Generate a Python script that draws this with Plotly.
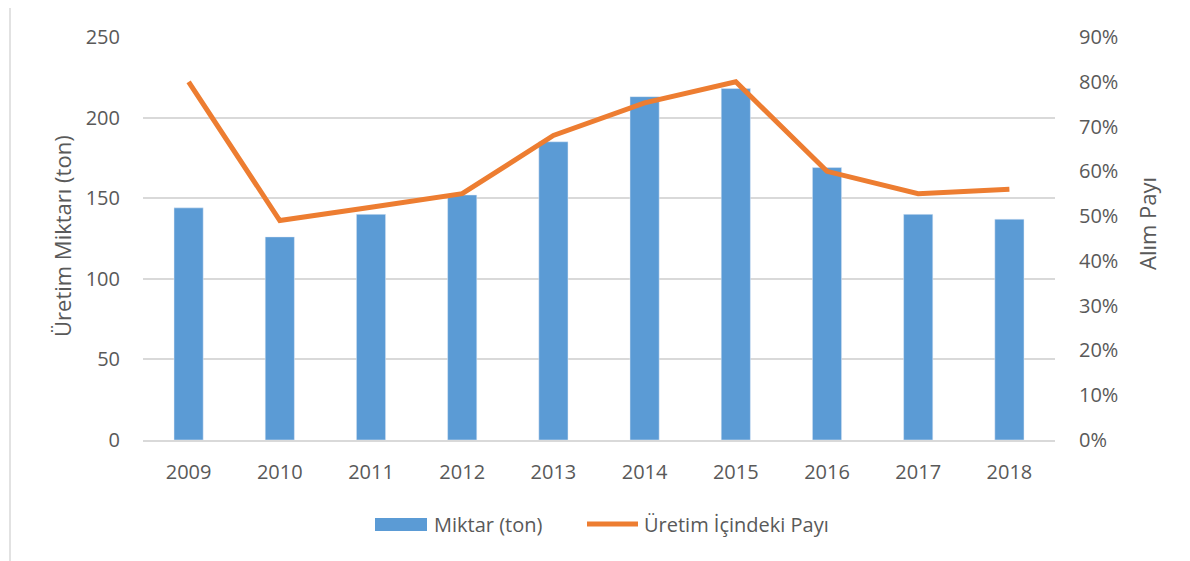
import plotly.graph_objects as go

years = ["2009", "2010", "2011", "2012", "2013", "2014", "2015", "2016", "2017", "2018"]
miktar = [144, 126, 140, 152, 185, 213, 218, 169, 140, 137]
pay = [0.80, 0.49, 0.52, 0.55, 0.68, 0.753, 0.80, 0.60, 0.55, 0.56]

font_family = "Open Sans, Liberation Sans, sans-serif"
txt = "#595959"
blue = "#5b9bd5"
orange = "#ed7d31"

fig = go.Figure()
fig.add_trace(go.Bar(x=years, y=miktar, name="Miktar (ton)", marker=dict(color=blue),
                     width=0.32, yaxis="y", showlegend=False))
fig.add_trace(go.Scatter(x=years, y=pay, name="Üretim İçindeki Payı", mode="lines",
                         line=dict(color=orange, width=5), yaxis="y2", showlegend=False))

# screen px -> paper coords helpers (plot area spans x 143..1055, y 37..440 on screen)
def px(sx):
    return (sx - 143) / 912

def py(sy):
    return (440 - sy) / 403

fig.update_layout(
    width=1190, height=561,
    paper_bgcolor="white", plot_bgcolor="white",
    margin=dict(l=135, r=143, t=29, b=129),
    font=dict(family=font_family, color=txt, size=20),
    xaxis=dict(showgrid=False, showline=True, linecolor="#d9d9d9", linewidth=1.5, ticks="",
               ticklabelstandoff=13, automargin=False),
    yaxis=dict(range=[0, 250], dtick=50, showgrid=True, gridcolor="#d9d9d9", gridwidth=1.5,
               zeroline=False, showline=False, ticks="", ticklabelstandoff=22, automargin=False),
    yaxis2=dict(range=[0, 0.9], dtick=0.1, tickformat=".0%", overlaying="y", side="right",
                showgrid=False, zeroline=False, ticks="", ticklabelstandoff=23, automargin=False),
    showlegend=False,
    shapes=[
        dict(type="rect", xref="paper", yref="paper", x0=px(10), x1=1.4, y0=-0.6, y1=py(7),
             line=dict(color="#d9d9d9", width=1.5), fillcolor="rgba(0,0,0,0)", layer="below"),
        dict(type="rect", xref="paper", yref="paper", x0=px(375), x1=px(427), y0=py(531), y1=py(518),
             line=dict(width=0), fillcolor=blue),
        dict(type="line", xref="paper", yref="paper", x0=px(587), x1=px(638), y0=py(524), y1=py(524),
             line=dict(color=orange, width=5)),
    ],
    annotations=[
        dict(text="Miktar (ton)", xref="paper", yref="paper", x=px(432), y=py(524),
             xanchor="left", yanchor="middle", showarrow=False, font=dict(size=20, color=txt)),
        dict(text="Üretim İçindeki Payı", xref="paper", yref="paper", x=px(642), y=py(524),
             xanchor="left", yanchor="middle", showarrow=False, font=dict(size=20, color=txt)),
        dict(text="Üretim Miktarı (ton)", xref="paper", yref="paper", x=px(62), y=py(236),
             xanchor="center", yanchor="middle", textangle=-90, showarrow=False,
             font=dict(size=22, color=txt)),
        dict(text="Alım Payı", xref="paper", yref="paper", x=px(1147), y=py(224),
             xanchor="center", yanchor="middle", textangle=-90, showarrow=False,
             font=dict(size=22, color=txt)),
    ],
)

fig.write_html("out.html")
